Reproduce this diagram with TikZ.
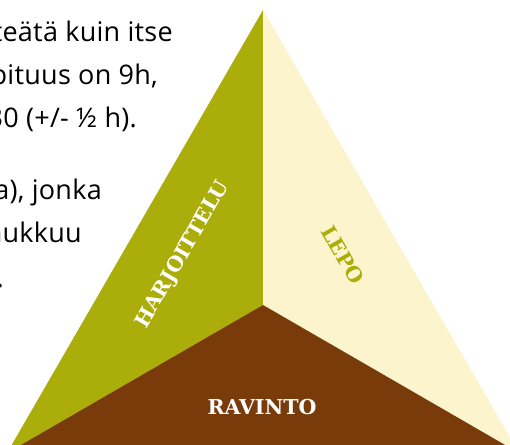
\documentclass[tikz,border=0pt]{standalone}
\usepackage{fontspec}
\setmainfont[LetterSpace=1]{Open Sans}
\newfontfamily\labelfont{DejaVu Serif}
\definecolor{olivec}{HTML}{ABAD0A}
\definecolor{creamc}{HTML}{FBF4CC}
\definecolor{brownc}{HTML}{7A3B0B}
\tikzset{
  para/.style={anchor=base east, inner sep=0pt, font=\fontsize{27}{30}\selectfont, text=black},
  lab/.style={inner sep=0pt, font=\labelfont\bfseries\fontsize{20.5}{24}\selectfont}
}
\begin{document}
\begin{tikzpicture}[x=1pt,y=1pt]
\useasboundingbox (0,0) rectangle (510,444);
\clip (0,0) rectangle (510,444);
\coordinate (apex) at (263,434);
\coordinate (ctr) at (263,139);
\coordinate (bl) at (7,-9);
\coordinate (br) at (519,-9);
\fill[olivec] (apex) -- (ctr) -- (bl) -- cycle;
\fill[creamc] (apex) -- (ctr) -- (br) -- cycle;
\fill[brownc] (bl) -- (ctr) -- (br) -- cycle;
\node[lab, text=white, rotate=60] (harj) at (183,189) {HARJOITTELU};
\node[lab, text=olivec, rotate=-60] (lepo) at (343,189) {LEPO};
\node[lab, text=white] (rav) at (262,37) {RAVINTO};
\node[para] (l1) at (173,402) {teätä kuin itse};
\node[para] (l2) at (158,359) {pituus on 9h,};
\node[para] (l3) at (137,316) {30 (+/- ½ h).};
\node[para] (l4) at (102,244) {a), jonka};
\node[para] (l5) at (82,201) {nukkuu};
\node[para] (l6) at (4,156) {.};
\end{tikzpicture}
\end{document}
